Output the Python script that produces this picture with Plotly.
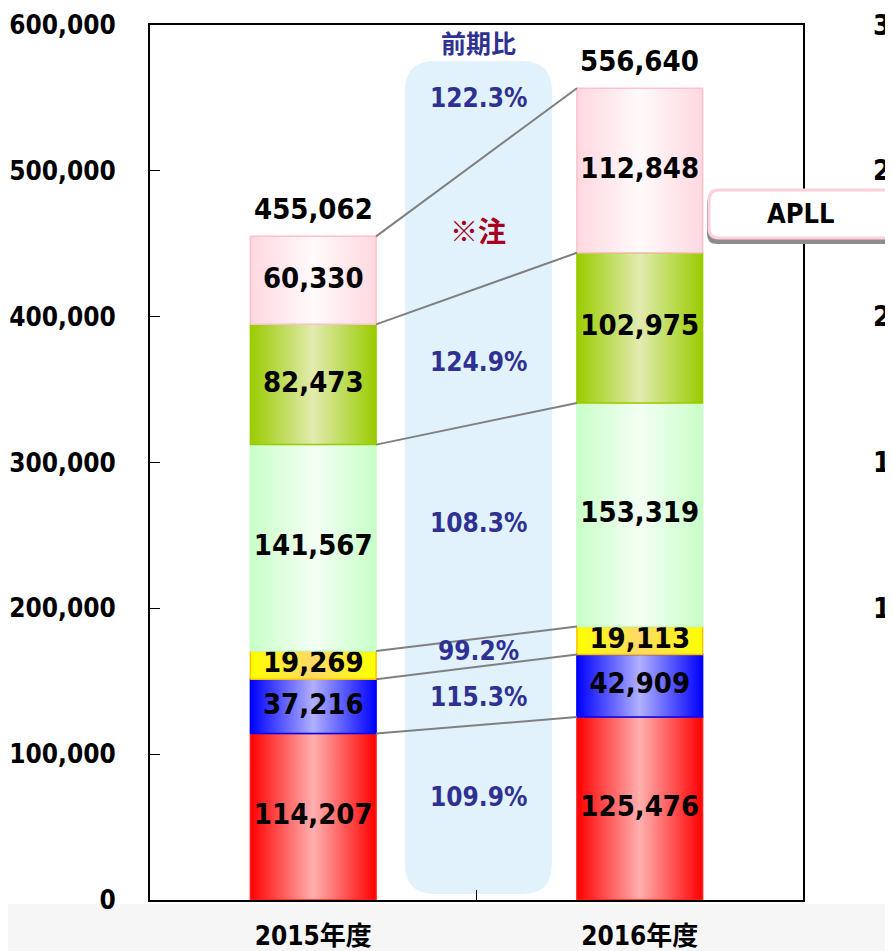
import plotly.graph_objects as go

# ---------------- data ----------------
years = ['2015年度', '2016年度']
seg_2015 = [114207, 37216, 19269, 141567, 82473, 60330]
seg_2016 = [125476, 42909, 19113, 153319, 102975, 112848]
ratio_labels = ['109.9%', '115.3%', '99.2%', '108.3%', '124.9%', '122.3%']
y_tick_values = [0, 100000, 200000, 300000, 400000, 500000, 600000]
right_chart_labels = ['0', '50', '100', '150', '200', '250', '300']

# ---------------- layout helpers (positions / styles) ----------------
ratio_label_y = [70629, 139200, 170743, 258514, 368914, 549943]
note_y = 459429
header_y = 588343
bar_w = 0.385
seg_styles = [  # (edge colour, middle colour, border colour)
    ('#FF0000', '#FFB0B0', '#FF2020'),
    ('#0000FF', '#B0B0FF', '#0000FF'),
    ('#FFFF00', '#FFD966', '#FFC000'),
    ('#C8FFC8', '#F4FFF4', '#C8FFC8'),
    ('#99CC00', '#E2EBB0', '#99CC00'),
    ('#FFD8E0', '#FFFAFB', '#FFC0C8'),
]
NARROW = "'Liberation Sans Narrow', 'DejaVu Sans Condensed', 'Noto Sans CJK JP', sans-serif"
CJK = "'Noto Sans CJK JP', sans-serif"
RATIO_COLOR = '#2E3192'

# page offset (body margin) -> figure sized so the plot area sits at page 150..803 x 25..900
OFF = 8
FIG_W, FIG_H = 893 - OFF, 951 - OFF
PL, PR, PT, PB = 150, 803, 25, 900          # plot area in page pixels
PW, PH = PR - PL, PB - PT
px = lambda p: (p - PL) / PW
py = lambda p: (PB - p) / PH

fig = go.Figure()

cum = []
for i, segs in enumerate([seg_2015, seg_2016]):
    base = 0
    tops = []
    for k, v in enumerate(segs):
        edge, mid, border = seg_styles[k]
        x0, x1 = i - bar_w / 2, i + bar_w / 2
        fig.add_trace(go.Scatter(
            x=[x0, x1, x1, x0, x0], y=[base, base, base + v, base + v, base],
            mode='lines', fill='toself',
            fillgradient=dict(type='horizontal',
                              colorscale=[[0, edge], [0.5, mid], [1, edge]]),
            line=dict(color=border, width=1.5),
            hoverinfo='skip', showlegend=False))
        fig.add_trace(go.Scatter(
            x=[i], y=[base + v / 2], mode='text', text=[f'{v:,}'],
            textfont=dict(family=NARROW, size=29, color='black', weight='bold'),
            hoverinfo='skip', showlegend=False))
        base += v
        tops.append(base)
    cum.append(tops)
    fig.add_annotation(x=i, y=base, text=f'{base:,}', showarrow=False,
                       yanchor='bottom', yshift=8,
                       font=dict(family=NARROW, size=29, color='black', weight='bold'))

# connector lines between segment tops
for k in range(len(seg_2015)):
    fig.add_trace(go.Scatter(
        x=[0 + bar_w / 2, 1 - bar_w / 2], y=[cum[0][k], cum[1][k]],
        mode='lines', line=dict(color='#808080', width=2),
        hoverinfo='skip', showlegend=False))

# ratio labels
for lab, yv in zip(ratio_labels, ratio_label_y):
    fig.add_annotation(x=0.506, y=yv, text=lab, showarrow=False,
                       font=dict(family=NARROW, size=26, color=RATIO_COLOR, weight='bold'))
fig.add_annotation(x=0.506, y=header_y, text='前期比', showarrow=False,
                   font=dict(family=CJK, size=25, color=RATIO_COLOR, weight='bold'))
fig.add_annotation(x=0.506, y=note_y, text='※注', showarrow=False,
                   font=dict(family=CJK, size=28, color='#A50021', weight='bold'))


def rounded(x0, x1, y0, y1, rxp, ryp):
    return (f'M {x0+rxp},{y0} L {x1-rxp},{y0} Q {x1},{y0} {x1},{y0+ryp} '
            f'L {x1},{y1-ryp} Q {x1},{y1} {x1-rxp},{y1} '
            f'L {x0+rxp},{y1} Q {x0},{y1} {x0},{y1-ryp} '
            f'L {x0},{y0+ryp} Q {x0},{y0} {x0+rxp},{y0} Z')


# light-blue rounded background box (data coords)
fig.add_shape(type='path', xref='x', yref='y',
              path=rounded(0.281, 0.731, 4114, 575314, 0.092, 20571),
              fillcolor='#E1F2FD', line=dict(width=0), layer='below')

# bottom light-grey strip
fig.add_shape(type='rect', xref='paper', yref='paper', x0=px(0), x1=px(900),
              y0=py(960), y1=py(904), fillcolor='#F6F6F6', line=dict(width=0), layer='below')

# APLL call-out box
fig.add_shape(type='path', xref='paper', yref='paper',
              path=rounded(px(707), px(905), py(244), py(194), 10 / PW, 10 / PH),
              fillcolor='#8C8C8C', line=dict(width=0), layer='above')
fig.add_shape(type='path', xref='paper', yref='paper',
              path=rounded(px(709), px(907), py(238), py(190), 10 / PW, 10 / PH),
              fillcolor='white', line=dict(color='#FFD0DC', width=3), layer='above')
fig.add_annotation(xref='paper', yref='paper', x=px(801), y=py(214), text='APLL',
                   showarrow=False, xanchor='center', yanchor='middle',
                   font=dict(family=NARROW, size=27, color='black', weight='bold'))

# partially visible tick labels of the neighbouring chart
for j, lab in enumerate(right_chart_labels):
    fig.add_annotation(xref='paper', yref='y', x=px(928), y=y_tick_values[j],
                       xanchor='right', text=lab, showarrow=False,
                       font=dict(family=NARROW, size=28, color='black', weight='bold'))

fig.update_layout(
    width=FIG_W, height=FIG_H, autosize=False,
    margin=dict(l=PL - OFF, r=FIG_W - (PR - OFF), t=PT - OFF, b=FIG_H - (PB - OFF),
                autoexpand=False),
    plot_bgcolor='white', paper_bgcolor='white',
    showlegend=False,
    xaxis=dict(range=[-0.5, 1.5], tickvals=[0, 1], ticktext=years, ticks='',
               showline=True, mirror=True, linecolor='black', linewidth=2,
               showgrid=False, zeroline=False, fixedrange=True, automargin=False,
               ticklabelstandoff=12,
               tickfont=dict(family=NARROW, size=26, color='black', weight='bold'),
               minor=dict(tickmode='array', tickvals=[0.5], ticks='inside',
                          ticklen=10, tickcolor='black', tickwidth=1)),
    yaxis=dict(range=[0, 600000], tickvals=y_tick_values, tickformat=',',
               ticks='inside', ticklen=10, tickcolor='black', tickwidth=1,
               showline=True, mirror=True, linecolor='black', linewidth=2,
               showgrid=False, zeroline=False, fixedrange=True, automargin=False,
               ticklabelstandoff=27,
               tickfont=dict(family=NARROW, size=26, color='black', weight='bold')),
)

fig.write_html('out.html')
